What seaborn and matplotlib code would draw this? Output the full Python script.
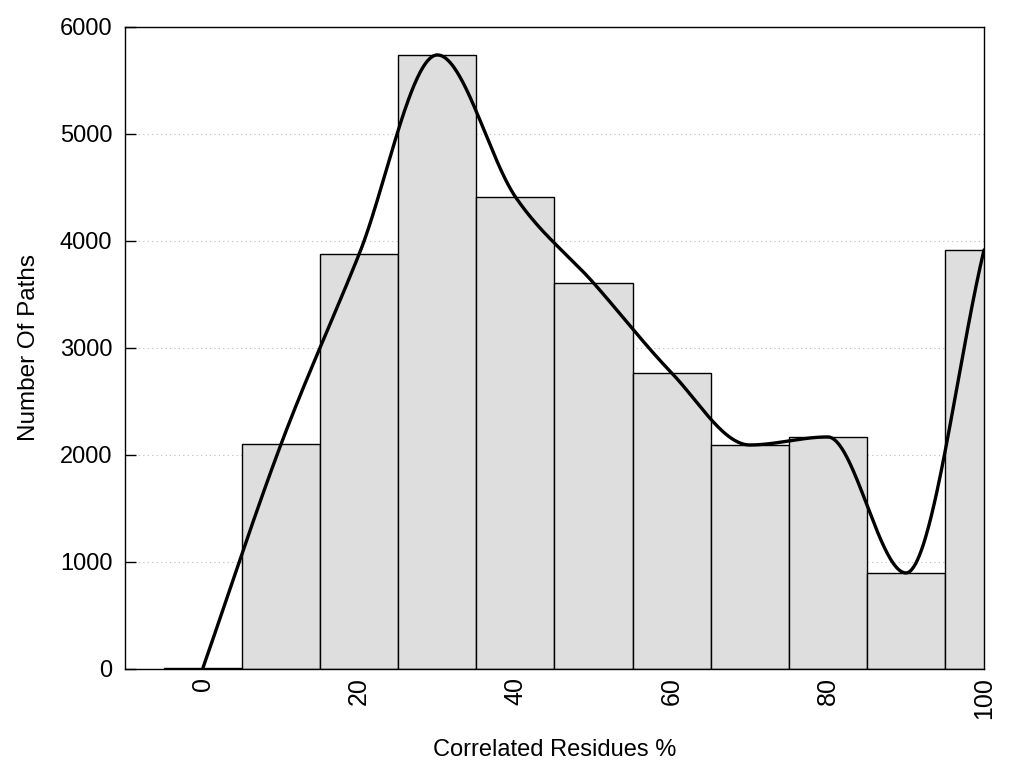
import numpy as np
import pandas as pd
import matplotlib
matplotlib.use("Agg")
import matplotlib.pyplot as plt
import seaborn as sns

# Data
bin_centers = [0, 10, 20, 30, 40, 50, 60, 70, 80, 90, 100]
counts = [12, 2103, 3879, 5738, 4411, 3607, 2766, 2093, 2168, 897, 3916]
x_ticks = [0, 20, 40, 60, 80, 100]
y_ticks = [0, 1000, 2000, 3000, 4000, 5000, 6000]

sns.set_theme(style="white")
plt.rcParams['font.family'] = ['Liberation Sans', 'DejaVu Sans']
plt.rcParams['text.color'] = 'black'
plt.rcParams['axes.labelcolor'] = 'black'
plt.rcParams['xtick.color'] = 'black'
plt.rcParams['ytick.color'] = 'black'

df = pd.DataFrame({"x": bin_centers, "count": counts})


def monotone_cubic(x, y, xs):
    """Fritsch-Carlson monotone cubic Hermite spline (like gnuplot mcsplines)."""
    x = np.asarray(x, float)
    y = np.asarray(y, float)
    n = len(x)
    h = np.diff(x)
    delta = np.diff(y) / h
    m = np.zeros(n)
    m[0] = delta[0]
    m[-1] = delta[-1]
    for k in range(1, n - 1):
        if delta[k - 1] * delta[k] <= 0:
            m[k] = 0.0
        else:
            m[k] = (delta[k - 1] + delta[k]) / 2
    for k in range(n - 1):
        if delta[k] == 0:
            m[k] = m[k + 1] = 0.0
            continue
        a = m[k] / delta[k]
        b = m[k + 1] / delta[k]
        s = a * a + b * b
        if s > 9:
            t = 3 / np.sqrt(s)
            m[k] = t * a * delta[k]
            m[k + 1] = t * b * delta[k]
    idx = np.clip(np.searchsorted(x, xs) - 1, 0, n - 2)
    hh = h[idx]
    t = (xs - x[idx]) / hh
    h00 = 2 * t ** 3 - 3 * t ** 2 + 1
    h10 = t ** 3 - 2 * t ** 2 + t
    h01 = -2 * t ** 3 + 3 * t ** 2
    h11 = t ** 3 - t ** 2
    return h00 * y[idx] + h10 * hh * m[idx] + h01 * y[idx + 1] + h11 * hh * m[idx + 1]


xs = np.linspace(0, 100, 800)
ys = monotone_cubic(df["x"], df["count"], xs)
curve = pd.DataFrame({"x": xs, "y": ys})

fig, ax = plt.subplots(figsize=(10.24, 7.68), dpi=100)
fig.subplots_adjust(left=0.122, right=0.961, top=0.965, bottom=0.129)

ax.set_axisbelow(True)
ax.yaxis.grid(True, linestyle=(0, (1, 3)), color="#bbbbbb", linewidth=0.8)
ax.xaxis.grid(False)

ax.bar(df["x"], df["count"], width=10, color="#dedede", edgecolor="black", linewidth=1.0, zorder=2)
sns.lineplot(data=curve, x="x", y="y", ax=ax, color="black", linewidth=2.4, zorder=3)

ax.set_xlim(-10, 100)
ax.set_ylim(0, 6000)
ax.set_xticks(x_ticks)
ax.set_xticklabels([str(t) for t in x_ticks], rotation=90, fontsize=18)
ax.set_yticks(y_ticks)
ax.set_yticklabels([str(t) for t in y_ticks], fontsize=17)
ax.tick_params(axis="y", direction="in", length=8, width=1, colors="black", pad=9, left=True)
ax.tick_params(axis="x", length=0, pad=6, colors="black")
for s in ax.spines.values():
    s.set_color("black")
    s.set_linewidth(1.0)

ax.set_xlabel("Correlated Residues %", fontsize=17, labelpad=14, color="black")
ax.set_ylabel("Number Of Paths", fontsize=17.5, labelpad=14, color="black")

fig.savefig("out.png", dpi=100)
